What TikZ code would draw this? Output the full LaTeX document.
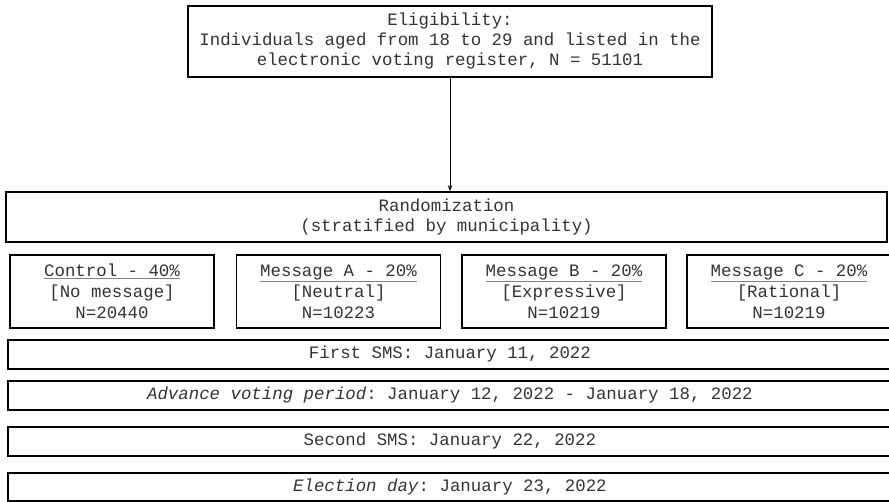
\documentclass[tikz,border=0pt]{standalone}
\usepackage{fontspec}
\setmonofont{Liberation Mono}
\usetikzlibrary{arrows.meta}

\tikzset{
  caja/.style={draw, line width=1.8pt, align=center, inner sep=0pt, text=black!80,
    font=\ttfamily\fontsize{17.4}{20}\selectfont},
  grupo/.style={caja, minimum width=204, minimum height=73,
    font=\ttfamily\fontsize{17.4}{21}\selectfont},
  barra/.style={caja, anchor=west, minimum width=884, minimum height=29},
  flecha/.style={-{Stealth[length=6pt,width=4.5pt]}, line width=0.9pt},
}
\newcommand{\subr}[1]{{\color{gray}\underline{\color{black!80}#1}}}

\begin{document}
\begin{tikzpicture}[x=1pt,y=-1pt]
\useasboundingbox (0,0) rectangle (889,502);
\clip (0,0) rectangle (889,502);

% Elegibilidad
\node[caja, minimum width=524, minimum height=71] (elig) at (450,41.5)
  {Eligibility:\\Individuals aged from 18 to 29 and listed in the\\electronic voting register, N = 51101};

% Aleatorizacion
\node[caja, minimum width=881, minimum height=50] (rand) at (446.5,217)
  {Randomization\\(stratified by municipality)};
\draw[flecha] (elig.south) -- (elig.south |- rand.north);

% Grupos de tratamiento
\node[grupo] (ctrl) at (112,291.5) {\subr{Control - 40\%}\\{[No message]}\\N=20440};
\node[grupo] (msga) at (338.5,291.5) {\subr{Message A - 20\%}\\{[Neutral]}\\N=10223};
\node[grupo] (msgb) at (564,291.5) {\subr{Message B - 20\%}\\{[Expressive]}\\N=10219};
\node[grupo] (msgc) at (789,291.5) {\subr{Message C - 20\%}\\{[Rational]}\\N=10219};

% Calendario
\node[barra] (sms1) at (7,354.5) {First SMS: January 11, 2022};
\node[barra] (antic) at (7,395.5) {\textit{Advance voting period}: January 12, 2022 - January 18, 2022};
\node[barra] (sms2) at (7,441.5) {Second SMS: January 22, 2022};
\node[barra, minimum height=28] (elec) at (7,487) {\textit{Election day}: January 23, 2022};

\end{tikzpicture}
\end{document}
